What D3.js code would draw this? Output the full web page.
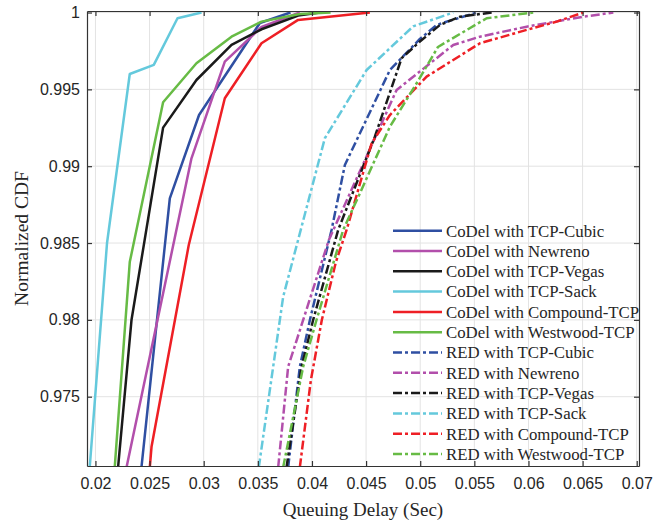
<!DOCTYPE html>
<html>
<head>
<meta charset="utf-8">
<script src="https://cdn.jsdelivr.net/npm/d3@7"></script>
<style>
  body { margin: 0; background: #fff; }
  text { fill: #262626; }
</style>
</head>
<body>
<svg id="chart" width="667" height="522"></svg>
<script>
// Tick positions and their printed labels
const xTickValues = [0.02, 0.025, 0.03, 0.035, 0.04, 0.045, 0.05, 0.055, 0.06, 0.065, 0.07];
const xTickLabels = ["0.02", "0.025", "0.03", "0.035", "0.04", "0.045", "0.05", "0.055", "0.06", "0.065", "0.07"];
const yTickValues = [0.975, 0.98, 0.985, 0.99, 0.995, 1];
const yTickLabels = ["0.975", "0.98", "0.985", "0.99", "0.995", "1"];

// Legend entries, in plotting order
const seriesNames = [
  "CoDel with TCP-Cubic", "CoDel with Newreno", "CoDel with TCP-Vegas",
  "CoDel with TCP-Sack", "CoDel with Compound-TCP", "CoDel with Westwood-TCP",
  "RED with TCP-Cubic", "RED with Newreno", "RED with TCP-Vegas",
  "RED with TCP-Sack", "RED with Compound-TCP", "RED with Westwood-TCP"
];

// CDF samples: [queuing delay (s), normalized CDF]
const codelCubic = [[0.02425,0.9704],[0.02687,0.98791],[0.02957,0.99333],[0.03519,0.99932],[0.03802,1.0]];
const codelNewreno = [[0.02287,0.9704],[0.02887,0.99051],[0.03195,0.99680],[0.03534,0.99906],[0.03888,1.0]];
const codelVegas = [[0.02209,0.9704],[0.02333,0.97999],[0.02625,0.99251],[0.02933,0.99561],[0.03257,0.99789],[0.03534,0.99891],[0.03873,0.99980],[0.04073,1.0]];
const codelSack = [[0.01947,0.9704],[0.02107,0.98500],[0.02317,0.99600],[0.02539,0.99659],[0.02758,0.99963],[0.02980,1.0]];
const codelCompound = [[0.02502,0.9704],[0.02518,0.97174],[0.02862,0.98487],[0.03195,0.99442],[0.03534,0.99800],[0.03872,0.99952],[0.04535,1.0]];
const codelWestwood = [[0.02178,0.9704],[0.02317,0.98376],[0.02625,0.99416],[0.02933,0.99670],[0.03257,0.99843],[0.03534,0.99941],[0.03888,0.99991],[0.04172,1.0]];

const redCubic = [[0.03780,0.9704],[0.03888,0.97695],[0.03981,0.97999],[0.04181,0.98585],[0.04304,0.99008],[0.04720,0.99626],[0.04997,0.99828],[0.05152,0.99919],[0.05274,0.99947],[0.05521,1.0]];
const redNewreno = [[0.03688,0.9704],[0.03780,0.97695],[0.04156,0.98520],[0.04782,0.99496],[0.05305,0.99789],[0.05552,0.99843],[0.05983,0.99908],[0.06506,0.99973],[0.06784,1.0]];
const redVegas = [[0.03765,0.9704],[0.03904,0.97695],[0.04011,0.97999],[0.04242,0.98585],[0.04581,0.99192],[0.04828,0.99703],[0.04997,0.99811],[0.05182,0.99919],[0.05367,0.99973],[0.05660,1.0]];
const redSack = [[0.03509,0.9704],[0.03734,0.98150],[0.04119,0.99182],[0.04505,0.99626],[0.04935,0.99910],[0.05305,1.0]];
const redCompound = [[0.03888,0.9704],[0.03990,0.97608],[0.04091,0.97999],[0.04221,0.98376],[0.04320,0.98585],[0.04551,0.99149],[0.04720,0.99333],[0.05059,0.99583],[0.05552,0.99800],[0.05983,0.99887],[0.06261,0.99941],[0.06506,1.0]];
const redWestwood = [[0.03734,0.9704],[0.03919,0.97695],[0.04042,0.97999],[0.04288,0.98585],[0.04443,0.98824],[0.04720,0.99257],[0.04967,0.99540],[0.05164,0.99776],[0.05614,0.99963],[0.06044,1.0]];

const seriesData = [codelCubic, codelNewreno, codelVegas, codelSack, codelCompound, codelWestwood,
                    redCubic, redNewreno, redVegas, redSack, redCompound, redWestwood];

// Styling per series
const palette = ["#2f4fa2", "#b24fab", "#1a1a1a", "#64c9dc", "#ee1f25", "#67bb45"];
const colorOf = i => palette[i % 6];
const dashOf = i => (i < 6 ? null : "9,3,3,3");

const W = 667, H = 522;
const plot = { left: 87, top: 11, right: 639, bottom: 466 };

const svg = d3.select("#chart");
svg.append("rect").attr("width", W).attr("height", H).attr("fill", "#fff");

const x = d3.scaleLinear().domain([0.01922, 0.07021]).range([plot.left, plot.right]);
const y = d3.scaleLinear().domain([0.97049, 1.0001]).range([plot.bottom, plot.top]);

// Grid
const grid = svg.append("g").attr("stroke", "#e3e3e3").attr("stroke-width", 1);
grid.selectAll("line.gx").data(xTickValues).join("line")
  .attr("x1", d => x(d)).attr("x2", d => x(d))
  .attr("y1", plot.top).attr("y2", plot.bottom);
grid.selectAll("line.gy").data(yTickValues).join("line")
  .attr("x1", plot.left).attr("x2", plot.right)
  .attr("y1", d => y(d)).attr("y2", d => y(d));

// Curves
svg.append("clipPath").attr("id", "plotClip").append("rect")
  .attr("x", plot.left).attr("y", plot.top - 2)
  .attr("width", plot.right - plot.left).attr("height", plot.bottom - plot.top + 2);

const line = d3.line().x(d => x(d[0])).y(d => y(d[1]));
svg.append("g").attr("clip-path", "url(#plotClip)")
  .selectAll("path").data(seriesData).join("path")
  .attr("d", line)
  .attr("fill", "none")
  .attr("stroke", (d, i) => colorOf(i))
  .attr("stroke-width", 2.5)
  .attr("stroke-dasharray", (d, i) => dashOf(i))
  .attr("stroke-linejoin", "round");

// Axes with inward ticks on all four sides
const axisColor = "#333";
function styleAxis(g) {
  g.selectAll(".domain").attr("stroke", axisColor).attr("stroke-width", 1.2);
  g.selectAll(".tick line").attr("stroke", axisColor).attr("stroke-width", 1.2);
  g.selectAll(".tick text")
    .attr("font-family", "'Liberation Sans', Arial, Helvetica, sans-serif")
    .attr("font-size", 16).attr("fill", "#262626");
}

svg.append("g").attr("transform", `translate(0,${plot.bottom})`)
  .call(d3.axisBottom(x).tickValues(xTickValues).tickFormat((d, i) => xTickLabels[i])
    .tickSizeInner(-5).tickSizeOuter(0).tickPadding(12))
  .call(styleAxis);
svg.append("g").attr("transform", `translate(0,${plot.top})`)
  .call(d3.axisTop(x).tickValues(xTickValues).tickFormat("").tickSizeInner(-5).tickSizeOuter(0))
  .call(styleAxis);
svg.append("g").attr("transform", `translate(${plot.left},0)`)
  .call(d3.axisLeft(y).tickValues(yTickValues).tickFormat((d, i) => yTickLabels[i])
    .tickSizeInner(-5).tickSizeOuter(0).tickPadding(7))
  .call(styleAxis);
svg.append("g").attr("transform", `translate(${plot.right},0)`)
  .call(d3.axisRight(y).tickValues(yTickValues).tickFormat("").tickSizeInner(-5).tickSizeOuter(0))
  .call(styleAxis);

// Axis titles
const serif = "'Liberation Serif', 'Times New Roman', Times, serif";
svg.append("text")
  .attr("x", (plot.left + plot.right) / 2).attr("y", 516)
  .attr("text-anchor", "middle")
  .attr("font-family", serif).attr("font-size", 19)
  .text("Queuing Delay (Sec)");
svg.append("text")
  .attr("transform", `translate(28,${(plot.top + plot.bottom) / 2}) rotate(-90)`)
  .attr("text-anchor", "middle")
  .attr("font-family", serif).attr("font-size", 19.5)
  .text("Normalized CDF");

// Legend (no frame)
const legend = svg.append("g");
const rowY = i => 230.7 + i * 20.3;
legend.selectAll("line").data(seriesNames).join("line")
  .attr("x1", 393).attr("x2", 442)
  .attr("y1", (d, i) => rowY(i)).attr("y2", (d, i) => rowY(i))
  .attr("stroke", (d, i) => colorOf(i))
  .attr("stroke-width", 2.5)
  .attr("stroke-dasharray", (d, i) => dashOf(i));
legend.selectAll("text").data(seriesNames).join("text")
  .attr("x", 446).attr("y", (d, i) => rowY(i)).attr("dy", "0.35em")
  .attr("font-family", serif).attr("font-size", 16.8)
  .text(d => d);
</script>
</body>
</html>
